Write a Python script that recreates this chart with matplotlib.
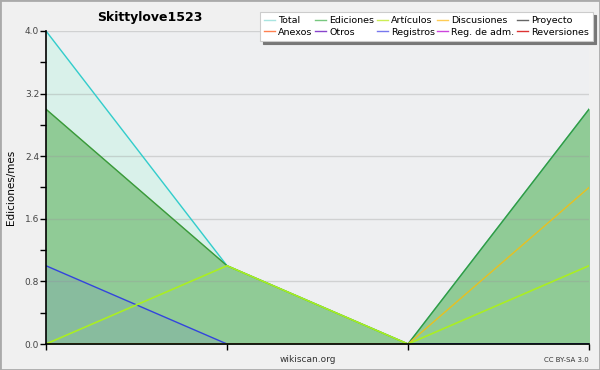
import matplotlib
matplotlib.use('Agg')
from matplotlib import pyplot as plt
from matplotlib.lines import Line2D
from matplotlib.patches import Rectangle
from matplotlib.ticker import MultipleLocator
import numpy as np

# monthly edits for Skittylove1523, four months
months = [0, 1, 2, 3]
total = [4, 1, 0, 3]
ediciones = [3, 1, 0, 3]
articulos = [0, 1, 0, 1]
discusiones = [0, 0, 0, 2]
registros = [1, 0, 0, 0]

legend_labels = ['Total', 'Ediciones', 'Artículos', 'Discusiones', 'Proyecto',
                 'Anexos', 'Otros', 'Registros', 'Reg. de adm.', 'Reversiones']
legend_colors = ['#a8e4e0', '#77c77f', '#ccee55', '#ffcc55', '#666666',
                 '#ff8050', '#8844cc', '#7777ee', '#cc44dd', '#dd3333']

fig = plt.figure(figsize=(6, 3.7), dpi=100, facecolor='#f0f0f0')
ax = fig.add_axes([46 / 600, 1 - 344 / 370, 543 / 600, 313 / 370])
ax.set_facecolor('#eeeff1')

ax.fill_between(months, total, color='#d9f1ea', zorder=1)
ax.fill_between(months, ediciones, color='#90cb96', zorder=2)
ax.fill_between(months, registros, color='#5555dd', alpha=0.12, lw=0, zorder=3)

ax.plot(months, total, color='#33cccc', lw=1, zorder=5)
ax.plot(months, ediciones, color='#3a9a3a', lw=1, zorder=5)
ax.plot(months, registros, color='#3344dd', lw=1, zorder=6)
ax.plot(months, discusiones, color='#e8c020', lw=1, zorder=6)
ax.plot(months, articulos, color='#aaee22', lw=1.2, zorder=7)

ax.set_xlim(0, 3)
ax.set_ylim(0, 4)
ax.set_xticks(months)
ax.set_xticklabels([])
ax.yaxis.set_major_locator(MultipleLocator(0.8))
ax.yaxis.set_minor_locator(MultipleLocator(0.4))
ax.yaxis.set_major_formatter(matplotlib.ticker.FormatStrFormatter('%.1f'))
ax.tick_params(axis='both', which='both', direction='out', length=4, width=1,
               labelsize=6.5, labelcolor='#444444', pad=1)
ax.grid(axis='y', which='major', color='#999999', alpha=0.35, lw=1, zorder=4)
ax.set_axisbelow(False)
for s in ['top', 'right']:
    ax.spines[s].set_visible(False)
for s in ['left', 'bottom']:
    ax.spines[s].set_linewidth(1.2)
    ax.spines[s].set_zorder(8)

ax.set_ylabel('Ediciones/mes', fontsize=7.5, labelpad=6)
fig.text(150 / 600, 1 - 18 / 370, 'Skittylove1523', ha='center', va='center',
         fontsize=9, fontweight='bold')
fig.text(308 / 600, 1 - 359 / 370, 'wikiscan.org', ha='center', va='center',
         fontsize=6.5, color='#333333')
fig.text(589 / 600, 1 - 360 / 370, 'CC BY-SA 3.0', ha='right', va='center',
         fontsize=5, color='#333333')

handles = [Line2D([], [], color=c, lw=1) for c in legend_colors]
# legend fills row by row in the original, matplotlib fills column-wise
order = [0, 5, 1, 6, 2, 7, 3, 8, 4, 9]
leg = fig.legend([handles[i] for i in order], [legend_labels[i] for i in order],
                 loc='upper right', bbox_to_anchor=(593 / 600, 1 - 12 / 370),
                 ncol=5, fontsize=6.8, frameon=True, fancybox=False,
                 shadow={'color': '#777777', 'alpha': 1, 'ox': 2, 'oy': -2},
                 handlelength=1.2, handletextpad=0.3, columnspacing=0.25,
                 labelspacing=0.25, borderpad=0.45, borderaxespad=0)
leg.get_frame().set_edgecolor('#cccccc')
leg.get_frame().set_linewidth(0.8)

fig.patches.append(Rectangle((0, 0), 1, 1, transform=fig.transFigure, fill=False,
                             edgecolor='#aaaaaa', lw=2))

plt.savefig('out.png', dpi=100, facecolor=fig.get_facecolor())
